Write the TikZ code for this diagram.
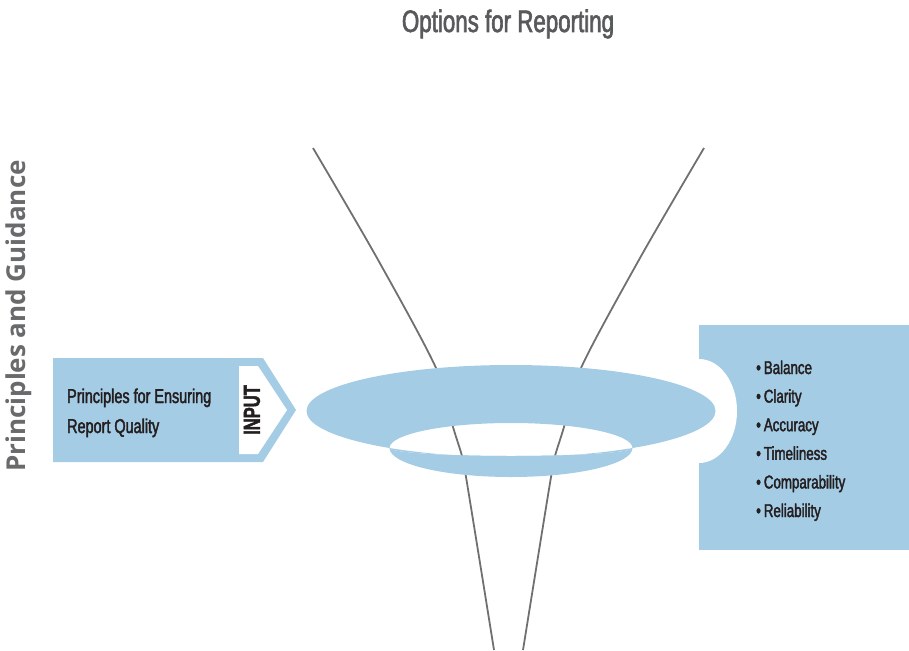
\documentclass[tikz,border=0pt]{standalone}
\usepackage{fontspec}
\setmainfont{Liberation Sans}
\newfontfamily\condfont[FakeStretch=0.72, FakeBold=2]{Liberation Sans}
\newfontfamily\sidefont{Open Sans}
\usepackage{tikz}
\definecolor{funnelblue}{HTML}{A5CCE5}
\definecolor{funnelgray}{HTML}{707070}
\definecolor{titlegray}{HTML}{58595B}
\definecolor{inkblack}{HTML}{231F20}

\begin{document}
\begin{tikzpicture}[x=1pt, y=-1pt, inner sep=0pt]
    \tikzstyle{band}=[fill=funnelblue]
    \tikzstyle{hole}=[fill=white]
    \tikzstyle{wire}=[draw=funnelgray, line width=1.8pt]
    \tikzstyle{label}=[font=\condfont\fontsize{18.5}{28.6}\selectfont, text=inkblack, align=left]
    \useasboundingbox (0,0) rectangle (909,650);

    \node[font=\condfont\fontsize{31}{36}\selectfont, text=titlegray, anchor=base] (title) at (508,32) {Options for Reporting};
    \node[font=\sidefont\bfseries\fontsize{26}{30}\selectfont, text=titlegray!90, rotate=90] (side) at (19,316) {Principles and Guidance};

    % funnel walls
    \draw[wire] plot[smooth] coordinates {(313,148) (377,258) (436,368) (453,427) (462,456) (466,477) (480,563) (494,650)};
    \draw[wire] plot[smooth] coordinates {(704,148) (640,258) (581,368) (564,427) (555,456) (551,477) (537,563) (523,650)};

    % input arrow
    \fill[band] (53,358) -- (263,358) -- (296,410) -- (263,462) -- (53,462) -- cycle;
    \fill[hole] (239,366) -- (258,366) -- (287,410) -- (258,454) -- (239,454) -- cycle;
    \node[label, font=\condfont\fontsize{20}{30}\selectfont, anchor=base west] (quality) at (67,433) {Principles for Ensuring\\Report Quality};
    \node[font=\condfont\bfseries\fontsize{23}{26}\selectfont, text=inkblack, rotate=90] (input) at (252,410) {INPUT};

    % output panel
    \fill[band] (699,325) rectangle (909,550);
    \fill[hole] (699,359) arc[start angle=90, end angle=-90, x radius=38pt, y radius=52pt] -- cycle;
    \node[label, anchor=base west] (traits) at (756,517) {\textbullet\hspace{3pt}Balance\\\textbullet\hspace{3pt}Clarity\\\textbullet\hspace{3pt}Accuracy\\\textbullet\hspace{3pt}Timeliness\\\textbullet\hspace{3pt}Comparability\\\textbullet\hspace{3pt}Reliability};

    % disc with its opening
    \fill[band, even odd rule] (511,411) ellipse[x radius=204.5pt, y radius=46pt]
        (389.5,448) arc[start angle=180, end angle=0, x radius=121.5pt, y radius=25pt]
        arc[start angle=0, end angle=-180, x radius=121.5pt, y radius=8pt] -- cycle;
    \fill[band] (389.5,448) arc[start angle=180, end angle=360, x radius=121.5pt, y radius=29pt]
        arc[start angle=0, end angle=-180, x radius=121.5pt, y radius=8pt] -- cycle;
\end{tikzpicture}
\end{document}
